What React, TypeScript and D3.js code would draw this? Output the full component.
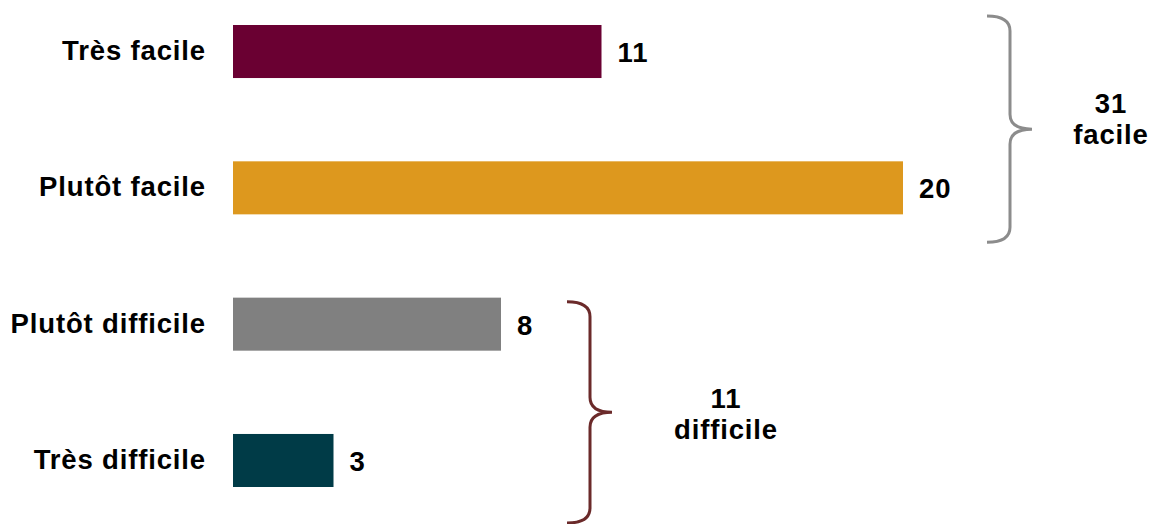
import React from "react";
import * as d3 from "d3";

const categories = ["Très facile", "Plutôt facile", "Plutôt difficile", "Très difficile"];
const values = [11, 20, 8, 3];
const colors = ["#6a0032", "#dd981e", "#808080", "#003b47"];
const groupTotals = [31, 11];
const groupLabels = ["facile", "difficile"];
const groupMembers = [[0, 1], [2, 3]];
const groupColors = ["#8c8c8c", "#6b2a2a"];

const W = 1154;
const H = 524;
const FONT = "Liberation Sans, Arial, sans-serif";
const FS = 27.5;
const LS = 0.85;

// layout for braces (x of brace start, label centre x, top/bottom extension, label offset)
const braceLayout = [
  { x0: 987, labelX: 1111, padTop: -9, padBottom: 28, labelDy: -16 },
  { x0: 567, labelX: 726, padTop: 4, padBottom: 36, labelDy: -4 },
];

function bracePath(x0: number, top: number, bottom: number) {
  const mid = (top + bottom) / 2;
  const xv = x0 + 23;
  const xt = x0 + 45;
  const r = 15;
  return [
    `M${x0},${top}`,
    `Q${xv},${top} ${xv},${top + r}`,
    `L${xv},${mid - r}`,
    `Q${xv},${mid} ${xt},${mid}`,
    `Q${xv},${mid} ${xv},${mid + r}`,
    `L${xv},${bottom - r}`,
    `Q${xv},${bottom} ${x0},${bottom}`,
  ].join(" ");
}

export default function App() {
  const x = d3.scaleLinear().domain([0, 20]).range([233, 903]);
  const y = d3
    .scaleBand<string>()
    .domain(categories)
    .range([25, 487])
    .paddingInner(0.611)
    .paddingOuter(0);
  const bw = y.bandwidth();

  const textProps = {
    fontFamily: FONT,
    fontWeight: "bold" as const,
    fontSize: FS,
    letterSpacing: LS,
    fill: "#000",
  };

  return (
    <svg width={W} height={H} style={{ position: "absolute", left: 0, top: 0 }}>
      <rect width={W} height={H} fill="#fff" />
      {categories.map((c, i) => {
        const yy = y(c)!;
        return (
          <g key={c}>
            <rect x={x(0)} y={yy} width={x(values[i]) - x(0)} height={bw} fill={colors[i]} />
            <text x={206} y={yy + bw / 2 - 1} textAnchor="end" dominantBaseline="central" {...textProps}>
              {c}
            </text>
            <text x={x(values[i]) + 16} y={yy + bw / 2 + 1} dominantBaseline="central" {...textProps}>
              {values[i]}
            </text>
          </g>
        );
      })}
      {groupMembers.map((m, gi) => {
        const L = braceLayout[gi];
        const top = y(categories[m[0]])! + L.padTop;
        const bottom = y(categories[m[m.length - 1]])! + bw + L.padBottom;
        const mid = (top + bottom) / 2;
        return (
          <g key={gi}>
            <path d={bracePath(L.x0, top, bottom)} fill="none" stroke={groupColors[gi]} strokeWidth={3} />
            <text x={L.labelX} y={mid + L.labelDy} textAnchor="middle" {...textProps}>
              {groupTotals[gi]}
            </text>
            <text x={L.labelX} y={mid + L.labelDy + 31} textAnchor="middle" {...textProps}>
              {groupLabels[gi]}
            </text>
          </g>
        );
      })}
    </svg>
  );
}
